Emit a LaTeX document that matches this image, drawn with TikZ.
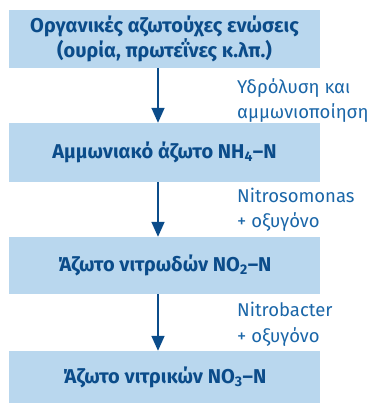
\documentclass[tikz,border=0pt]{standalone}
\usepackage{fontspec}
\setmainfont{Fira Sans}
\usetikzlibrary{arrows.meta}
\definecolor{boxfill}{HTML}{B9D7EE}
\definecolor{boxtext}{HTML}{0B4C8A}
\definecolor{arrowc}{HTML}{0B4C8A}
\definecolor{labtext}{HTML}{1A66A8}
\tikzset{
  stepbox/.style={fill=boxfill, draw=none, minimum width=311pt, inner sep=0pt,
    text=boxtext, font=\fontsize{20}{25}\selectfont\bfseries, align=center},
  flowarrow/.style={draw=arrowc, line width=1.6pt, -{Triangle[width=13pt,length=15pt]}},
  steplabel/.style={anchor=west, text=labtext, font=\fontsize{18.5}{25.5}\selectfont, align=left, inner sep=0pt}
}
\begin{document}
\begin{tikzpicture}[x=1pt,y=-1pt]
\useasboundingbox (0,0) rectangle (371,403);
\node[stepbox, minimum height=58pt] (b1) at (164.5,39) {Οργανικές αζωτούχες ενώσεις\\(ουρία, πρωτεΐνες κ.λπ.)};
\node[stepbox, minimum height=59pt] (b2) at (164.5,152.5) {Αμμωνιακό άζωτο NH\textsubscript{4}–N};
\node[stepbox, minimum height=57pt] (b3) at (164.5,265.5) {Άζωτο νιτρωδών NO\textsubscript{2}–N};
\node[stepbox, minimum height=52pt] (b4) at (164.5,377) {Άζωτο νιτρικών NO\textsubscript{3}–N};
\draw[flowarrow] (b1.south -| 158,0) -- (b2.north -| 158,0);
\draw[flowarrow] (b2.south -| 158,0) -- (b3.north -| 158,0);
\draw[flowarrow] (b3.south -| 158,0) -- (b4.north -| 158,0);
\node[steplabel] (l1) at (237,100.5) {Υδρόλυση και\\αμμωνιοποίηση};
\node[steplabel] (l2) at (237,210) {Nitrosomonas\\+ οξυγόνο};
\node[steplabel] (l3) at (237,324.5) {Nitrobacter\\+ οξυγόνο};
\end{tikzpicture}
\end{document}
